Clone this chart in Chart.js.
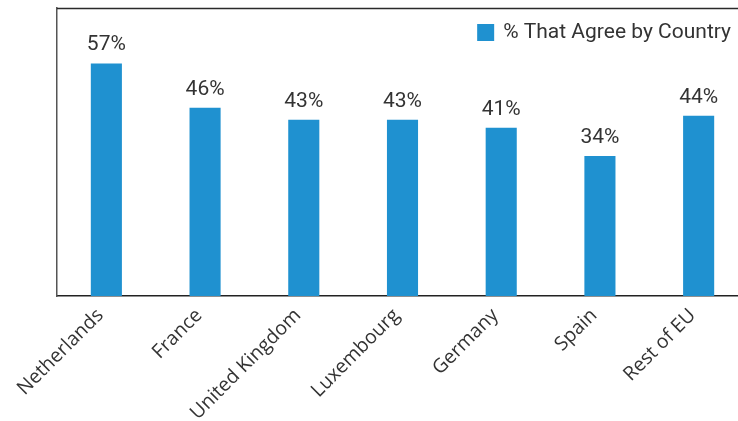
<!DOCTYPE html>
<html>
<head>
<meta charset="utf-8">
<script src="https://cdn.jsdelivr.net/npm/chart.js@4.4.0/dist/chart.umd.min.js"></script>
<style>
    html, body { margin: 0; padding: 0; background: #fff; overflow: hidden; }
    #wrap { width: 738px; height: 421px; overflow: hidden; }
    #chart { display: block; }
</style>
</head>
<body>
<div id="wrap"><canvas id="chart" width="748" height="421"></canvas></div>
<script>
const countries = ['Netherlands', 'France', 'United Kingdom', 'Luxembourg', 'Germany', 'Spain', 'Rest of EU'];
const agreePct = [57, 46, 43, 43, 41, 34, 44];
const seriesLabel = '% That Agree by Country';

const barColor = '#1f91d0';
const textColor = '#333333';
const yMin = -0.8;
const yMax = 70.8;

// draws the % label above each bar
const valueLabels = {
    id: 'valueLabels',
    afterDatasetsDraw(chart) {
        const ctx = chart.ctx;
        const meta = chart.getDatasetMeta(0);
        ctx.save();
        ctx.font = '21px Roboto';
        ctx.fillStyle = textColor;
        ctx.textAlign = 'center';
        ctx.textBaseline = 'bottom';
        meta.data.forEach((bar, i) => {
            ctx.fillText(agreePct[i] + '%', bar.x, bar.y - 8);
        });
        ctx.restore();
    }
};

// legend sits inside the plot, top right, plus the top frame line
const frameAndLegend = {
    id: 'frameAndLegend',
    afterDraw(chart) {
        const ctx = chart.ctx;
        const area = chart.chartArea;
        ctx.save();
        ctx.strokeStyle = '#2a2a2a';
        ctx.lineWidth = 1.5;
        ctx.beginPath();
        ctx.moveTo(area.left, area.top + 0.5);
        ctx.lineTo(area.right, area.top + 0.5);
        ctx.stroke();

        ctx.font = '21px Roboto';
        const textRight = chart.width - 17;
        const textWidth = ctx.measureText(seriesLabel).width;
        const textLeft = textRight - textWidth;
        ctx.fillStyle = barColor;
        ctx.fillRect(textLeft - 26, 24, 17, 17);
        ctx.fillStyle = textColor;
        ctx.textAlign = 'left';
        ctx.textBaseline = 'middle';
        ctx.fillText(seriesLabel, textLeft, 33);
        ctx.restore();
    }
};

new Chart(document.getElementById('chart'), {
    type: 'bar',
    data: {
        labels: countries,
        datasets: [{
            label: seriesLabel,
            data: agreePct,
            backgroundColor: barColor,
            base: yMin,
            barPercentage: 0.63,
            categoryPercentage: 0.5
        }]
    },
    options: {
        responsive: false,
        animation: false,
        layout: { padding: { left: 57, top: 8, right: 0, bottom: 0 } },
        plugins: {
            legend: { display: false },
            tooltip: { enabled: false }
        },
        scales: {
            x: {
                offset: true,
                grid: { display: false },
                border: { display: true, color: '#222222', width: 1.5 },
                ticks: {
                    color: textColor,
                    font: { family: 'Open Sans', size: 19.5 },
                    minRotation: 45,
                    maxRotation: 45,
                    padding: 0,
                    labelOffset: -6
                },
                afterFit(scale) { scale.height = 125; }
            },
            y: {
                min: yMin,
                max: yMax,
                grid: { display: false },
                border: { display: true, color: '#555555', width: 1.5 },
                ticks: { display: false },
                afterFit(scale) { scale.width = 0; }
            }
        }
    },
    plugins: [valueLabels, frameAndLegend]
});
</script>
</body>
</html>
